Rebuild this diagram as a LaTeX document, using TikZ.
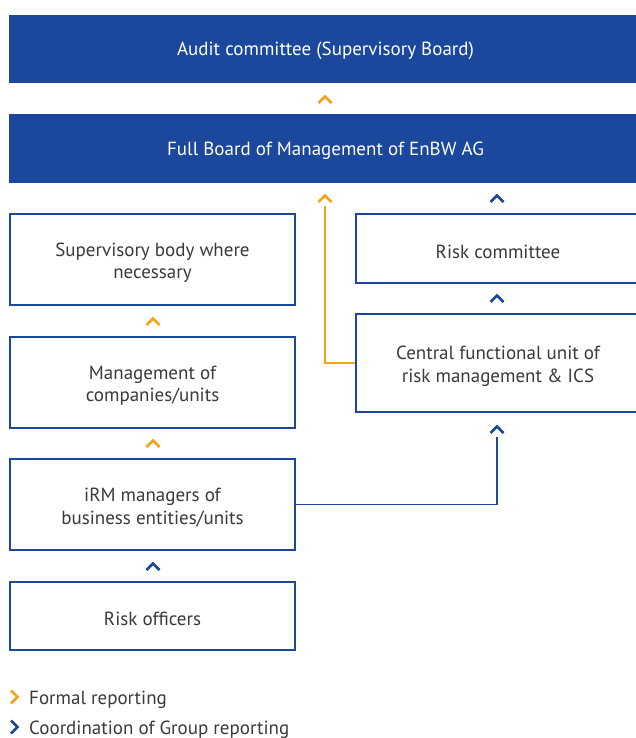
\documentclass[tikz,border=0pt]{standalone}
\usepackage{fontspec}
\setmainfont{PT Sans}
\usepackage{tikz}
\usetikzlibrary{positioning,calc}
\definecolor{enbwblue}{HTML}{1B479C}
\definecolor{enbworange}{HTML}{F7A21B}
\definecolor{txtgray}{HTML}{3A3A3A}

\tikzset{
  bar/.style={fill=enbwblue, text=white, minimum width=633pt, minimum height=68pt, inner sep=0pt,
    text height=17.5pt},
  unitbox/.style={draw=enbwblue, line width=1.4pt, fill=white, text=txtgray, align=center,
    minimum width=285pt, inner sep=0pt, text height=19.5pt},
  twoline/.style={text height=42.5pt},
  upchev/.pic={\draw[line width=2.8pt, #1] (-6.5,4)--(0,-2.5)--(6.5,4);},
  rightchev/.pic={\draw[line width=2.8pt, #1] (-3,-6.5)--(3.5,0)--(-3,6.5);}
}

\begin{document}
\begin{tikzpicture}[x=1pt, y=-1pt, font=\fontsize{19}{22.5}\selectfont]
\useasboundingbox (0,0) rectangle (636,738);
% top bars
\node[bar] (audit) at (325.5,49) {Audit committee (Supervisory Board)};
\node[bar, minimum height=69pt] (board) at (325.5,148.5) {Full Board of Management of EnBW AG};
% left column
\node[unitbox, twoline, minimum height=91pt] (superv) at (152.5,259.5) {Supervisory body where\\necessary};
\node[unitbox, twoline, minimum height=91pt] (mgmt) at (152.5,382.5) {Management of\\companies/units};
\node[unitbox, twoline, minimum height=91pt] (irm) at (152.5,504.5) {iRM managers of\\business entities/units};
\node[unitbox, minimum height=68pt] (officers) at (152.5,616) {Risk officers};
% right column
\node[unitbox, minimum width=284pt, minimum height=69pt] (riskcom) at (498,248.5) {Risk committee};
\node[unitbox, twoline, minimum width=284pt, minimum height=98pt] (central) at (498,363) {Central functional unit of\\risk management \& ICS};
% connectors
\coordinate (orgtop) at (325,206);
\coordinate (bluetop) at (497,437);
\draw[enbworange, line width=1.3pt] (central.west) -| (orgtop);
\draw[enbwblue, line width=1.6pt] (irm.east) -| (bluetop);
% chevrons
\pic at (325,99) {upchev=enbworange};
\pic at (325,198) {upchev=enbworange};
\pic at (153,321) {upchev=enbworange};
\pic at (153,443) {upchev=enbworange};
\pic at (497,198) {upchev=enbwblue};
\pic at (497,298) {upchev=enbwblue};
\pic at (497,429) {upchev=enbwblue};
\pic at (153,566) {upchev=enbwblue};
% legend
\pic at (14,697) {rightchev=enbworange};
\node[anchor=west, text=txtgray, inner sep=0pt] (formal) at (29,699.5) {Formal reporting};
\pic at (14,727) {rightchev=enbwblue};
\node[anchor=west, text=txtgray, inner sep=0pt] (coord) at (29,729.5) {Coordination of Group reporting};
\end{tikzpicture}
\end{document}
